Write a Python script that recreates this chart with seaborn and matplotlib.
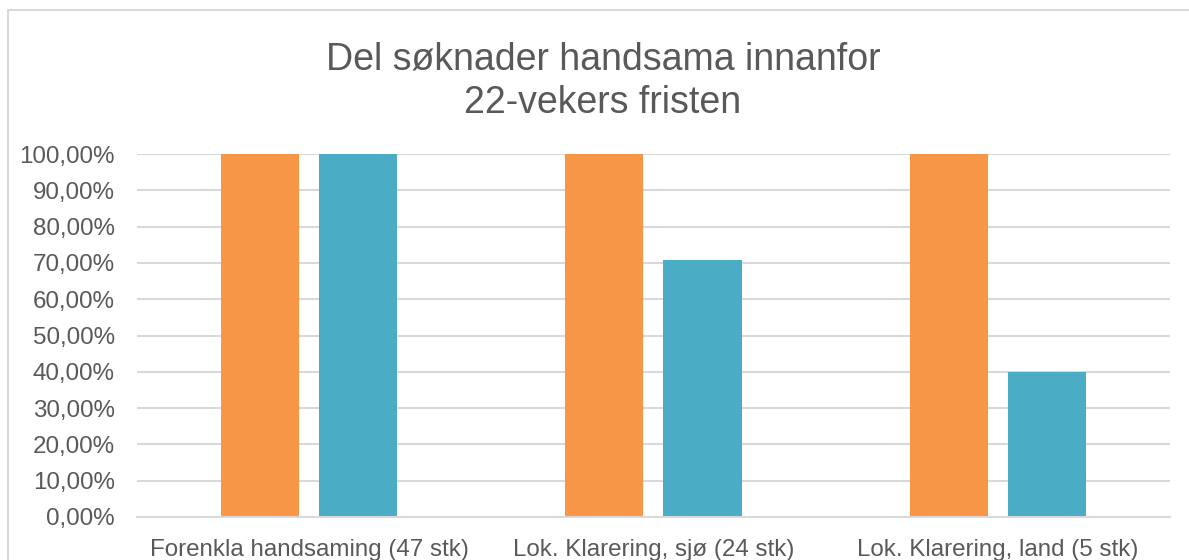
import matplotlib
matplotlib.use("Agg")
import matplotlib.pyplot as plt
import seaborn as sns
import pandas as pd
from matplotlib.lines import Line2D
from matplotlib.ticker import FuncFormatter

# =========================
# DATA
# =========================

categories = [
    "Forenkla handsaming (47 stk)",
    "Lok. Klarering, sjø (24 stk)",
    "Lok. Klarering, land (5 stk)",
]
series_names = ["Serie 1", "Serie 2"]
serie1 = [1.0, 1.0, 1.0]
serie2 = [1.0, 0.7083, 0.40]

title = "Del søknader handsama innanfor\n22-vekers fristen"
colors = ["#F79646", "#4BACC6"]

df = pd.DataFrame({
    "Kategori": categories * 2,
    "Serie": [series_names[0]] * 3 + [series_names[1]] * 3,
    "Verdi": serie1 + serie2,
})

# =========================
# PLOT
# =========================

sns.set_style("white")
plt.rcParams["font.family"] = ["Liberation Sans", "DejaVu Sans"]

fig = plt.figure(figsize=(11.89, 5.6), dpi=100)
ax = fig.add_axes([0.1152, 0.0768, 0.8688, 0.648])

sns.barplot(
    data=df, x="Kategori", y="Verdi", hue="Serie",
    palette=colors, width=0.57, gap=0.204,
    saturation=1, legend=False, linewidth=0, ax=ax,
)

ax.set_ylim(0, 1)
ax.set_yticks([i / 10 for i in range(11)])
ax.yaxis.set_major_formatter(
    FuncFormatter(lambda v, p: f"{v * 100:.2f}%".replace(".", ","))
)
ax.grid(axis="y", color="#D9D9D9", linewidth=1.5)
ax.set_axisbelow(True)
for s in ["top", "right", "left"]:
    ax.spines[s].set_visible(False)
ax.spines["bottom"].set_color("#D9D9D9")
ax.spines["bottom"].set_linewidth(1.5)

ax.tick_params(axis="y", length=0, pad=16, labelsize=17.4, labelcolor="#595959")
ax.tick_params(axis="x", length=0, pad=16, labelsize=17.4, labelcolor="#595959")
ax.set_xlabel("")
ax.set_ylabel("")

fig.text(0.507, 0.855, title, ha="center", va="center",
         fontsize=27, color="#595959", linespacing=1.27)

# chart frame (top and left edges visible)
fig.add_artist(Line2D([8 / 1189, 1.0], [1 - 10 / 560] * 2,
                      color="#D9D9D9", linewidth=1.5))
fig.add_artist(Line2D([8 / 1189] * 2, [0.0, 1 - 10 / 560],
                      color="#D9D9D9", linewidth=1.5))

fig.savefig("out.png", dpi=100)
